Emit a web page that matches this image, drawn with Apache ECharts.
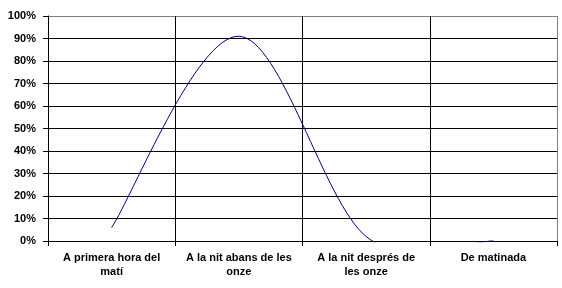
<!DOCTYPE html>
<html>
<head>
<meta charset="utf-8">
<script src="https://cdn.jsdelivr.net/npm/echarts@6/dist/echarts.min.js"></script>
<style>html,body{margin:0;padding:0;background:#fff}#c{width:562px;height:288px}</style>
</head>
<body>
<div id="c"></div>
<script>
const categories = ["A primera hora del\nmatí", "A la nit abans de les\nonze", "A la nit després de\nles onze", "De matinada"];
const values = [6, 91, 2, 0];
const yTicks = { min: 0, max: 100, interval: 10 };

const chart = echarts.init(document.getElementById('c'), null, { renderer: 'canvas' });
const font = '"Liberation Sans", Arial, sans-serif';
const hColors = ['#000','#000','#000','#000','#000','#000','#000','#000','#000','#000','#808080'];
const vColors = ['#000','#000','#000','#000','#808080'];

// Excel-like smoothed line (Catmull-Rom, tension 1/6) through the points placed by the axes
function renderCurve(params, api) {
  if (params.dataIndex !== 0) return null;
  const pts = values.map((v, i) => api.coord([i, v]));
  const n = pts.length;
  let d = 'M' + pts[0][0] + ' ' + pts[0][1];
  for (let i = 0; i < n - 1; i++) {
    const p0 = pts[Math.max(i - 1, 0)], p1 = pts[i], p2 = pts[i + 1], p3 = pts[Math.min(i + 2, n - 1)];
    const c1x = p1[0] + (p2[0] - p0[0]) / 6, c1y = p1[1] + (p2[1] - p0[1]) / 6;
    const c2x = p2[0] - (p3[0] - p1[0]) / 6, c2y = p2[1] - (p3[1] - p1[1]) / 6;
    d += ' C' + c1x + ' ' + c1y + ' ' + c2x + ' ' + c2y + ' ' + p2[0] + ' ' + p2[1];
  }
  const cs = params.coordSys;
  return {
    type: 'path',
    shape: { pathData: d },
    style: { stroke: '#000080', fill: 'none', lineWidth: 1 },
    clipPath: { type: 'rect', shape: { x: cs.x, y: cs.y, width: cs.width, height: cs.height + 1.2 } }
  };
}

chart.setOption({
  animation: false,
  backgroundColor: '#fff',
  grid: { left: 48, right: 5, top: 16, bottom: 47, containLabel: false },
  xAxis: {
    type: 'category',
    data: categories,
    boundaryGap: true,
    axisLine: { lineStyle: { color: '#000', width: 1 } },
    axisTick: { show: true, length: 5, lineStyle: { color: '#000' } },
    splitLine: { show: true, lineStyle: { color: vColors, width: 1 } },
    axisLabel: { interval: 0, margin: 10, color: '#000', fontFamily: font, fontWeight: 'bold', fontSize: 11, lineHeight: 14 }
  },
  yAxis: {
    type: 'value',
    min: yTicks.min, max: yTicks.max, interval: yTicks.interval,
    axisLine: { show: true, lineStyle: { color: '#000', width: 1 } },
    axisTick: { show: true, length: 5, lineStyle: { color: '#000' } },
    splitLine: { show: true, lineStyle: { color: hColors, width: 1 } },
    axisLabel: { margin: 12, formatter: '{value}%', color: '#000', fontFamily: font, fontWeight: 'bold', fontSize: 11 }
  },
  series: [{
    type: 'custom',
    renderItem: renderCurve,
    data: values.map((v, i) => [i, v]),
    encode: { x: 0, y: 1 },
    z: 5
  }]
});
</script>
</body>
</html>
